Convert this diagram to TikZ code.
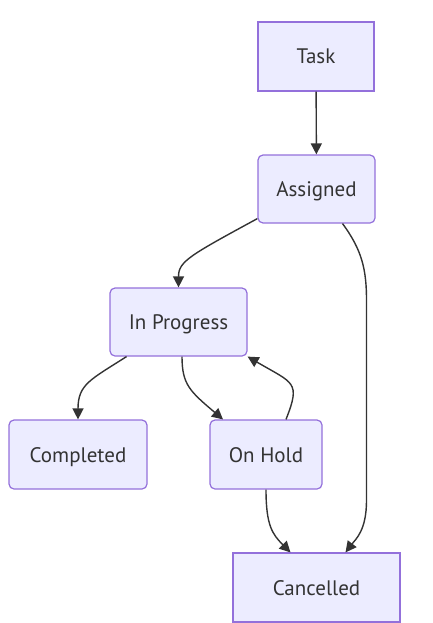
\documentclass[tikz,border=0pt]{standalone}
\usepackage{fontspec}
\setmainfont{PT Sans}
\usetikzlibrary{arrows.meta}
\definecolor{nodefill}{HTML}{ECECFF}
\definecolor{nodeline}{HTML}{9370DB}
\definecolor{edgeline}{HTML}{333333}
\tikzset{
  box/.style={draw=nodeline, fill=nodefill, line width=1.2pt, text=edgeline,
    font=\fontsize{21}{24}\selectfont, inner sep=0pt, anchor=center,
    text height=15pt, text depth=0pt},
  rbox/.style={box, rounded corners=5pt},
  edge/.style={draw=edgeline, line width=1.4pt, -{Triangle[length=11pt,width=11pt]}},
}
\begin{document}
\begin{tikzpicture}[x=1pt,y=-1pt]
\useasboundingbox (0,0) rectangle (433,623);
\node[box, minimum width=116pt, minimum height=69pt] (task) at (316,56.5) {Task};
\node[rbox, minimum width=117pt, minimum height=68pt] (assigned) at (316.5,189) {Assigned};
\node[rbox, minimum width=137pt, minimum height=68pt] (inprog) at (178.5,322) {In Progress};
\node[rbox, minimum width=138pt, minimum height=69pt] (completed) at (78,454.5) {Completed};
\node[rbox, minimum width=112pt, minimum height=69pt] (onhold) at (266,454.5) {On Hold};
\node[box, minimum width=167pt, minimum height=69pt] (cancelled) at (316.5,587.5) {Cancelled};

\draw[edge] (task) -- (assigned);
\draw[edge] ([yshift=5pt]assigned.south west) .. controls +(-68,37) and +(0,-26) .. (inprog.north);
\draw[edge] ([xshift=26pt]assigned.south) .. controls +(20,27) and +(0,-30) .. ++(24,77)
  -- ++(0,200) .. controls +(0,30) and +(10,-13) .. ([xshift=29pt]cancelled.north);
\draw[edge] ([xshift=-52pt]inprog.south) .. controls +(-36,23) and +(0,-35) .. (completed.north);
\draw[edge] ([xshift=3.5pt]inprog.south) .. controls +(0,28) and +(-33,-28) .. ([xshift=-43pt]onhold.north);
\draw[edge] ([xshift=20pt]onhold.north) .. controls +(15,-38) and +(46,27) .. (inprog.south east);
\draw[edge] (onhold.south) .. controls +(0,36) and +(-18,-18) .. ([xshift=-26pt]cancelled.north);
\end{tikzpicture}
\end{document}
